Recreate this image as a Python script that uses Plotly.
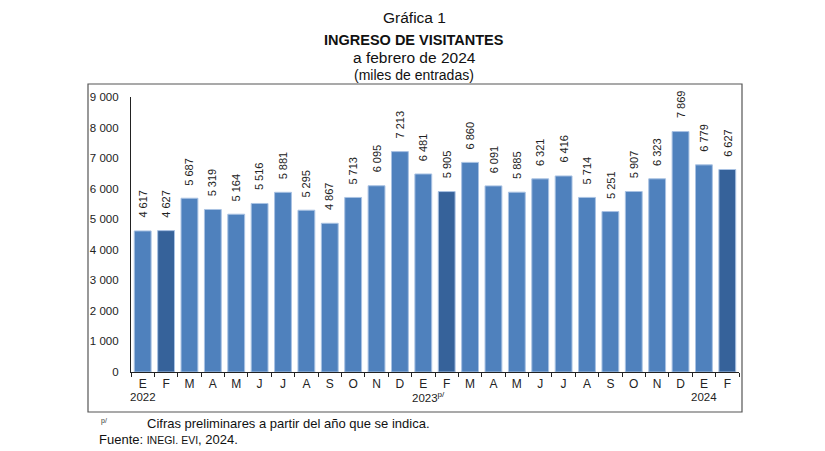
import plotly.graph_objects as go

months = ["E", "F", "M", "A", "M", "J", "J", "A", "S", "O", "N", "D",
          "E", "F", "M", "A", "M", "J", "J", "A", "S", "O", "N", "D",
          "E", "F"]
values = [4617, 4627, 5687, 5319, 5164, 5516, 5881, 5295, 4867, 5713, 6095, 7213,
          6481, 5905, 6860, 6091, 5885, 6321, 6416, 5714, 5251, 5907, 6323, 7869,
          6779, 6627]
years = [(0, "2022"), (12, "2023<sup>p/</sup>"), (24, "2024")]
yticks = [0, 1000, 2000, 3000, 4000, 5000, 6000, 7000, 8000, 9000]

ids = [f"{m}{i}" for i, m in enumerate(months)]
def fmt(v):
    return f"{v:,}".replace(",", " ")

colors = ["#36629a" if m == "F" else "#4f81bd" for m in months]

FONT = "Liberation Sans, Arial, sans-serif"

# page body has an 8px margin; work in reference pixel coords
OFF = 8
W, H = 825, 451
FW, FH = W - 2 * OFF, H - OFF
px0, px1, py0, py1 = 131, 739, 97, 372
def pxr(x):
    return (x - px0) / (px1 - px0)
def pyr(y):
    return (py1 - y) / (py1 - py0)

fig = go.Figure()
fig.add_trace(go.Bar(
    x=ids, y=values,
    marker=dict(color=colors, line=dict(color="#a9c2e3", width=1)),
    width=0.72,
    hoverinfo="skip",
))

ann = []
for xi, v in zip(ids, values):
    ann.append(dict(x=xi, y=v, text=fmt(v), textangle=-90, showarrow=False,
                    xref="x", yref="y", xanchor="center", yanchor="bottom",
                    yshift=11, font=dict(family=FONT, size=11, color="#222")))
for idx, t in years:
    ann.append(dict(x=ids[idx], y=pyr(397), yref="paper", xref="x", text=t,
                    showarrow=False, xanchor="center", yanchor="middle",
                    xshift=5 if idx == 12 else 0,
                    font=dict(family=FONT, size=11.5, color="#222")))

titles = [
    ("Gráfica 1", 18, 15.5),
    ("<b>INGRESO DE VISITANTES</b>", 40, 14.5),
    ("a febrero de 2024", 58, 15.5),
    ("(miles de entradas)", 75, 14),
]
for t, y, s in titles:
    ann.append(dict(x=pxr(414), y=pyr(y), xref="paper", yref="paper", text=t,
                    showarrow=False, xanchor="center", yanchor="middle",
                    font=dict(family=FONT, size=s, color="#111")))

ann.append(dict(x=pxr(99), y=pyr(421), xref="paper", yref="paper", text="p/",
                showarrow=False, xanchor="left", yanchor="middle",
                font=dict(family=FONT, size=7, color="#333")))
ann.append(dict(x=pxr(145), y=pyr(424), xref="paper", yref="paper",
                text="Cifras preliminares a partir del año que se indica.",
                showarrow=False, xanchor="left", yanchor="middle",
                font=dict(family=FONT, size=13, color="#111")))
ann.append(dict(x=pxr(97), y=pyr(439.5), xref="paper", yref="paper",
                text="Fuente: <span style='font-size:10.5px'>INEGI. EVI</span>, 2024.",
                showarrow=False, xanchor="left", yanchor="middle",
                font=dict(family=FONT, size=13, color="#111")))

fig.update_layout(
    width=FW, height=FH,
    margin=dict(l=px0 - OFF, r=FW - (px1 - OFF), t=py0 - OFF, b=FH - (py1 - OFF), pad=0),
    paper_bgcolor="white", plot_bgcolor="white",
    showlegend=False,
    annotations=ann,
    shapes=[dict(type="rect", xref="paper", yref="paper",
                 x0=pxr(88), x1=pxr(742), y0=pyr(412), y1=pyr(84),
                 line=dict(color="#555", width=1.2), fillcolor="rgba(0,0,0,0)",
                 layer="below")],
    xaxis=dict(type="category", tickvals=ids, ticktext=months,
               tickson="boundaries", ticks="outside", ticklen=4,
               tickcolor="#222", tickwidth=1.2,
               showline=True, linecolor="#222", linewidth=1.2,
               showgrid=False, zeroline=False,
               tickfont=dict(family=FONT, size=12, color="#222"),
               range=[-0.5, 25.5]),
    yaxis=dict(range=[0, 9000], tickvals=yticks,
               ticktext=[fmt(v) for v in yticks],
               showline=True, linecolor="#222", linewidth=1.2,
               ticks="outside", ticklen=9, tickcolor="rgba(0,0,0,0)",
               showgrid=False, zeroline=False,
               tickfont=dict(family=FONT, size=11.5, color="#222")),
)

fig.write_html("out.html")
